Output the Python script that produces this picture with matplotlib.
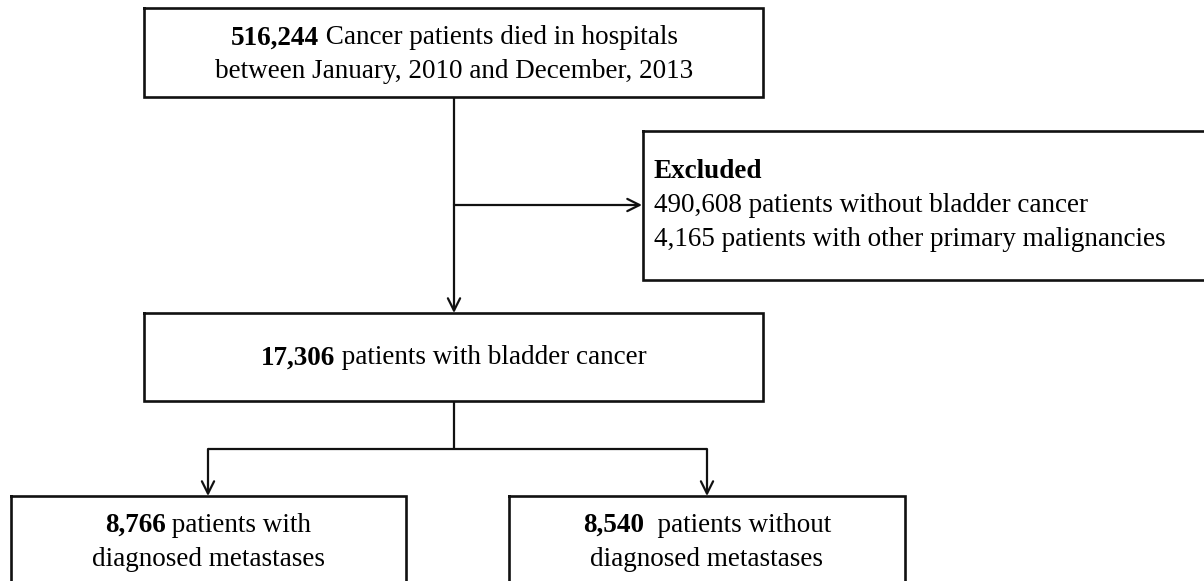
import matplotlib
matplotlib.use('Agg')
import matplotlib.pyplot as plt

# Números del diagrama de flujo
total_n = '516,244'
excluded_n = ['490,608', '4,165']
bladder_n = '17,306'
meta_n = ['8,766', '8,540']

total_txt = ['Cancer patients died in hospitals', 'between January, 2010 and December, 2013']
excluded_txt = ['patients without bladder cancer', 'patients with other primary malignancies']
bladder_txt = 'patients with bladder cancer'
meta_txt = [['patients with', 'diagnosed metastases'], [' patients without', 'diagnosed metastases']]

W, H = 1204, 581
fig = plt.figure(figsize=(W / 100, H / 100), dpi=100)
ax = fig.add_axes([0, 0, 1, 1])
ax.set_xlim(0, W)
ax.set_ylim(H, 0)
ax.axis('off')

FONT = 'Liberation Serif'
FS = 19.5
fig.canvas.draw()
renderer = fig.canvas.get_renderer()


def caja(x0, y0, x1, y1):
    ax.plot([x0, x1, x1, x0, x0], [y0, y0, y1, y1, y0], color='#111111', lw=1.9,
            solid_joinstyle='miter', clip_on=False)


def flecha(x0, y0, x1, y1):
    ax.annotate('', xy=(x1, y1), xytext=(x0, y0),
                arrowprops=dict(arrowstyle='->', lw=1.6, color='#111111',
                                mutation_scale=22, shrinkA=0, shrinkB=0))


def linea(xs, ys):
    ax.plot(xs, ys, color='#111111', lw=1.6, solid_capstyle='butt')


def texto_mixto(xc, y, negrita, resto, ha='center'):
    # número en negrita seguido de texto normal, centrado como una sola línea
    t1 = ax.text(0, y, negrita, fontsize=FS, family=FONT, weight='bold', va='center', ha='left')
    t2 = ax.text(0, y, ' ' + resto, fontsize=FS, family=FONT, va='center', ha='left')
    w1 = t1.get_window_extent(renderer).width
    w2 = t2.get_window_extent(renderer).width
    x0 = xc - (w1 + w2) / 2 if ha == 'center' else xc
    t1.set_x(x0)
    t2.set_x(x0 + w1)


def texto(x, y, s, ha='center', weight='normal'):
    ax.text(x, y, s, fontsize=FS, family=FONT, va='center', ha=ha, weight=weight)


# Caja superior
caja(144, 8, 763, 97)
texto_mixto(454, 38, total_n, total_txt[0])
texto(454, 72, total_txt[1])

# Caja de excluidos
caja(643, 131, 1210, 280)
texto(654, 171, 'Excluded', ha='left', weight='bold')
for i in range(2):
    texto(654, 206 + 34 * i, excluded_n[i] + ' ' + excluded_txt[i], ha='left')

# Conexiones
linea([454, 454], [97, 205])
flecha(454, 205, 454, 313)
flecha(454, 205, 642, 205)

# Caja intermedia
caja(144, 313, 763, 401)
texto_mixto(454, 358, bladder_n, bladder_txt)

# Ramas
linea([454, 454], [401, 449])
linea([208, 707], [449, 449])
flecha(208, 449, 208, 496)
flecha(707, 449, 707, 496)

# Cajas inferiores
caja(11, 496, 406, 600)
caja(509, 496, 905, 600)
for xc, n, txt in zip([208, 707], meta_n, meta_txt):
    texto_mixto(xc, 525, n, txt[0])
    texto(xc, 559, txt[1])

fig.savefig('out.png', dpi=100, facecolor='white')
